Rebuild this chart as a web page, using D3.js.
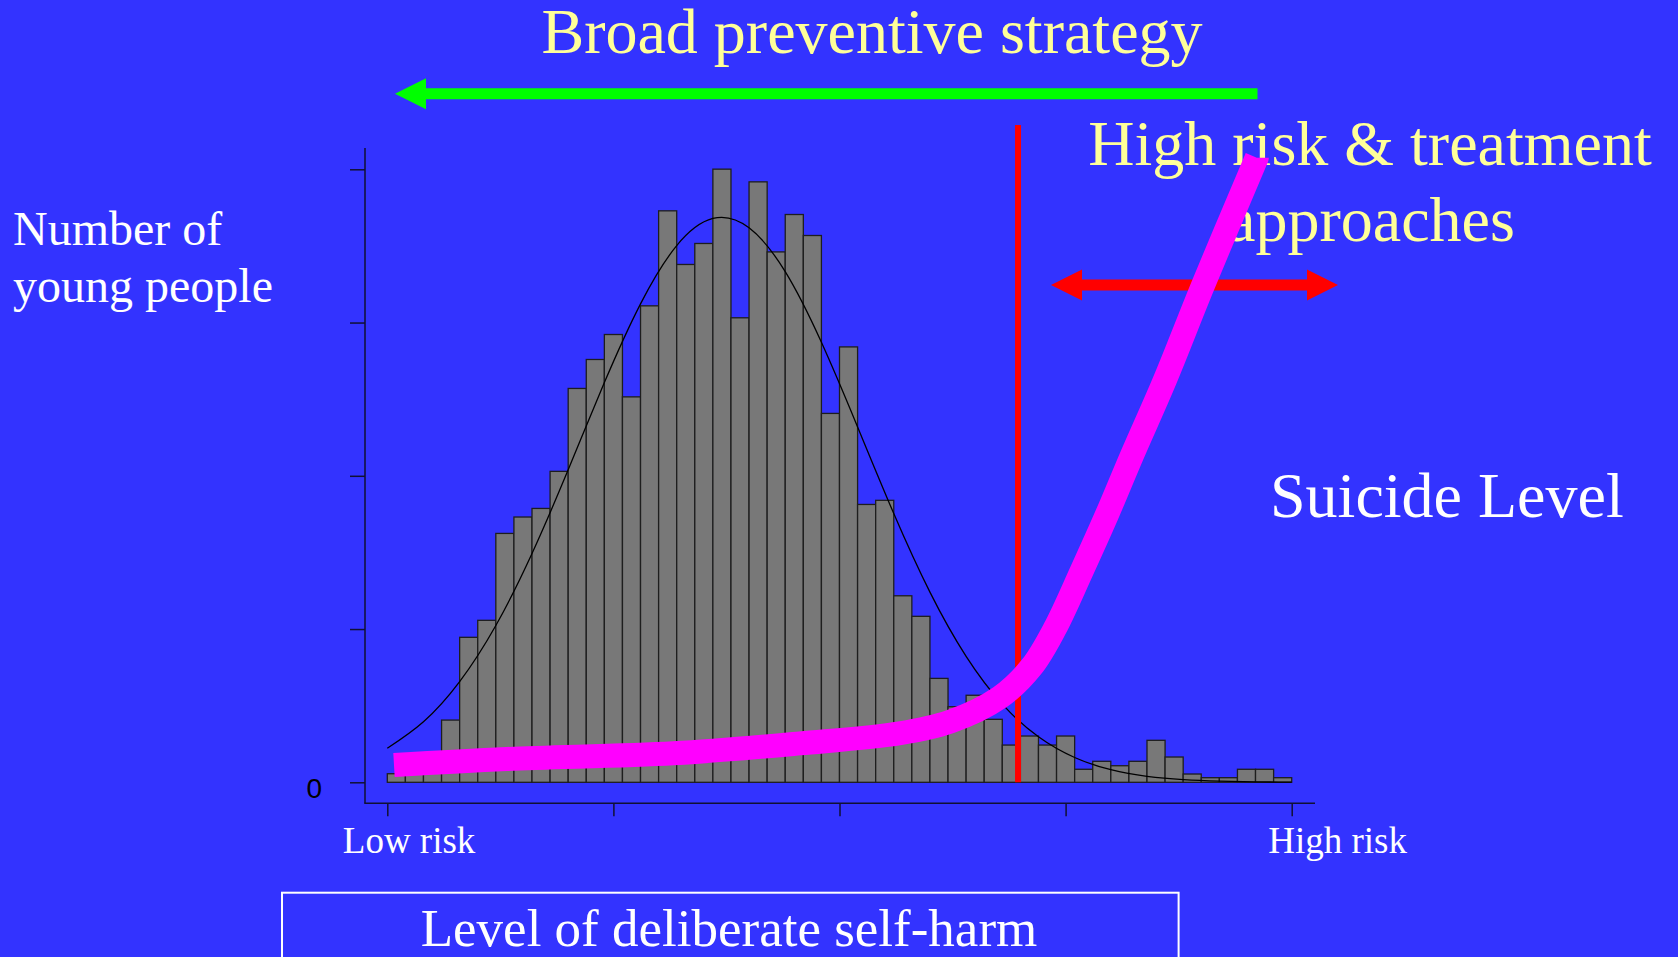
<!DOCTYPE html>
<html>
<head>
<meta charset="utf-8">
<title>self-harm histogram</title>
<script src="https://cdn.jsdelivr.net/npm/d3@7"></script>
<style>
body { margin: 0; background: #3333ff; }
svg { display: block; }
.serif { font-family: "Liberation Serif", "Times New Roman", serif; }
</style>
</head>
<body>
<svg width="1678" height="957"></svg>
<script>
// histogram: 50 bins, heights in y-tick units (one tick = 100)
var binCounts = [5.6, 13.2, 19.3, 40.6, 94.6, 105.7, 162.4, 173.1, 178.7, 202.9,
    257.0, 275.9, 292.2, 251.5, 310.9, 372.9, 337.9, 351.6, 400.1, 303.1,
    391.8, 346.1, 370.5, 356.8, 240.7, 284.1, 181.3, 184.0, 121.7, 108.3,
    67.8, 49.3, 56.8, 41.1, 24.3, 30.2, 24.3, 30.2, 8.5, 13.7,
    10.8, 13.7, 27.4, 16.5, 5.4, 3.0, 3.0, 8.5, 8.5, 3.0];

// fitted normal curve, read at every second bin edge
var normalX = [0, 2, 4, 6, 8, 10, 12, 14, 16, 18, 20, 22, 24, 26, 28, 30, 32, 34, 36, 38, 40, 42, 44, 46, 48, 50];
var normalY = [22.2, 39.5, 65.7, 102.3, 149.3, 203.9, 260.8, 312.2, 350.2, 367.9, 361.8, 333.2, 287.1,
    231.9, 175.4, 124.1, 82.2, 51.0, 29.7, 16.2, 8.2, 3.9, 1.8, 0.8, 0.3, 0.1];

// suicide level line (magenta)
var suicideX = [0.37, 6.6, 15.81, 22.81, 28.34, 31.1, 33.87, 35.63, 36.91, 38.39, 39.81, 41.15, 43.0, 45.11, 48.07];
var suicideY = [11.3, 15.2, 18.9, 25.4, 32.0, 39.5, 55.5, 75.5, 100.4, 137.9, 175.3, 212.8, 262.8, 324.7, 407.6];

var cutoff = 34.87;
var yTicks = [0, 100, 200, 300, 400];
var xTicks = [0, 12.5, 25, 37.5, 50];
var xTickLabels = ["Low risk", "", "", "", "High risk"];

var svg = d3.select("svg");

svg.append("rect").attr("width", 1678).attr("height", 957).attr("fill", "#3333ff");

var x = d3.scaleLinear().domain([0, 50]).range([387.3, 1291.7]);
var y = d3.scaleLinear().domain([0, 400]).range([782.3, 169.3]);

// axes
svg.append("line")
    .attr("x1", 365).attr("x2", 365).attr("y1", 148).attr("y2", 803.3)
    .attr("stroke", "#111133").attr("stroke-width", 1.5);
svg.append("line")
    .attr("x1", 364.3).attr("x2", 1315).attr("y1", 803.3).attr("y2", 803.3)
    .attr("stroke", "#111133").attr("stroke-width", 1.5);

var yAxis = svg.append("g")
    .attr("transform", "translate(365,0)")
    .call(d3.axisLeft(y).tickValues(yTicks).tickSize(15).tickFormat(function(d) { return d === 0 ? "0" : ""; }));
yAxis.select(".domain").remove();
yAxis.selectAll("line").attr("stroke", "#111133").attr("stroke-width", 1.5);
yAxis.selectAll("text")
    .attr("x", -43).attr("dy", 15)
    .attr("font-family", "'Liberation Sans', Arial, sans-serif")
    .attr("font-size", 28).attr("fill", "#000");

var xAxis = svg.append("g")
    .attr("transform", "translate(0,803.3)")
    .call(d3.axisBottom(x).tickValues(xTicks).tickSize(13).tickFormat(function(d, i) { return xTickLabels[i]; }));
xAxis.select(".domain").remove();
xAxis.selectAll("line").attr("stroke", "#111133").attr("stroke-width", 1.5);
xAxis.selectAll("text")
    .attr("class", "serif")
    .attr("y", 49.4).attr("dy", 0)
    .attr("font-size", 37).attr("fill", "#fff")
    .attr("text-anchor", "start")
    .attr("dx", function(d, i) { return i === 0 ? -45 : -24; });

// bars
svg.append("g").selectAll("rect")
    .data(binCounts)
    .enter().append("rect")
    .attr("x", function(d, i) { return x(i); })
    .attr("width", x(1) - x(0))
    .attr("y", function(d) { return y(d); })
    .attr("height", function(d) { return y(0) - y(d); })
    .attr("fill", "#787878")
    .attr("stroke", "#1e1e1e")
    .attr("stroke-width", 1.3);

// normal curve
var normalPts = normalX.map(function(v, i) { return [v, normalY[i]]; });
svg.append("path")
    .datum(normalPts)
    .attr("fill", "none")
    .attr("stroke", "#000")
    .attr("stroke-width", 1.3)
    .attr("d", d3.line()
        .x(function(d) { return x(d[0]); })
        .y(function(d) { return y(d[1]); })
        .curve(d3.curveNatural));

// cutoff line
svg.append("line")
    .attr("x1", x(cutoff)).attr("x2", x(cutoff))
    .attr("y1", 125).attr("y2", y(0))
    .attr("stroke", "#ff0000").attr("stroke-width", 6);

// arrows
function arrow(x1, x2, yc, both, color) {
    var hl = 31, hh = 15.5, sw = 5.5;
    var dir = x2 > x1 ? 1 : -1;
    var pts = [];
    var tailX = both ? x1 + dir * hl : x1;
    var headX = x2 - dir * hl;
    pts.push([tailX, yc - sw], [headX, yc - sw], [headX, yc - hh], [x2, yc], [headX, yc + hh], [headX, yc + sw], [tailX, yc + sw]);
    if (both) pts.push([tailX, yc + hh], [x1, yc], [tailX, yc - hh]);
    svg.append("polygon")
        .attr("points", pts.map(function(p) { return p.join(","); }).join(" "))
        .attr("fill", color);
}
arrow(1257.5, 395, 93.7, false, "#00ff00");
arrow(1051, 1338, 285, true, "#ff0000");

// texts
var yellow = "#ffff99";
svg.append("text").attr("class", "serif")
    .attr("x", 872).attr("y", 53).attr("text-anchor", "middle")
    .attr("font-size", 64).attr("fill", yellow)
    .text("Broad preventive strategy");
svg.append("text").attr("class", "serif")
    .attr("x", 1370).attr("y", 165).attr("text-anchor", "middle")
    .attr("font-size", 64).attr("fill", yellow)
    .text("High risk & treatment");
svg.append("text").attr("class", "serif")
    .attr("x", 1371).attr("y", 241).attr("text-anchor", "middle")
    .attr("font-size", 64).attr("fill", yellow)
    .text("approaches");
svg.append("text").attr("class", "serif")
    .attr("x", 1270).attr("y", 517).attr("font-size", 64).attr("fill", "#fff")
    .text("Suicide Level");
svg.append("text").attr("class", "serif")
    .attr("x", 13).attr("y", 245).attr("font-size", 48).attr("fill", "#fff")
    .text("Number of");
svg.append("text").attr("class", "serif")
    .attr("x", 13).attr("y", 302).attr("font-size", 48).attr("fill", "#fff")
    .text("young people");

svg.append("rect")
    .attr("x", 282).attr("y", 892.7).attr("width", 896.6).attr("height", 100)
    .attr("fill", "none").attr("stroke", "#fff").attr("stroke-width", 2);
svg.append("text").attr("class", "serif")
    .attr("x", 729).attr("y", 946).attr("text-anchor", "middle")
    .attr("font-size", 53).attr("fill", "#fff")
    .text("Level of deliberate self-harm");

// suicide level curve, drawn over everything
var suicidePts = suicideX.map(function(v, i) { return [v, suicideY[i]]; });
svg.append("path")
    .datum(suicidePts)
    .attr("fill", "none")
    .attr("stroke", "#ff00ff")
    .attr("stroke-width", 24)
    .attr("stroke-linecap", "butt")
    .attr("d", d3.line()
        .x(function(d) { return x(d[0]); })
        .y(function(d) { return y(d[1]); })
        .curve(d3.curveCatmullRom.alpha(0.5)));
</script>
</body>
</html>
